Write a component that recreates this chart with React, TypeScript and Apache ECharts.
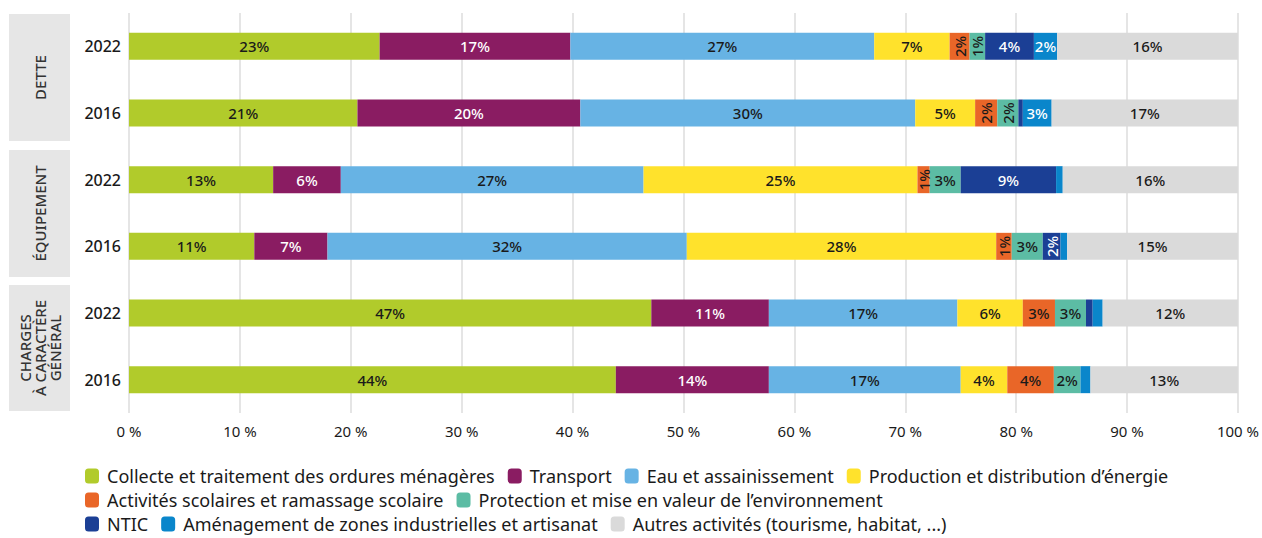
import React, { useEffect, useRef } from "react";
import * as echarts from "echarts";

const years = ["2022", "2016", "2022", "2016", "2022", "2016"];
const groups = ["DETTE", "ÉQUIPEMENT", "CHARGES\nÀ CARACTÈRE\nGÉNÉRAL"];
const seriesNames = [
  "Collecte et traitement des ordures ménagères",
  "Transport",
  "Eau et assainissement",
  "Production et distribution d’énergie",
  "Activités scolaires et ramassage scolaire",
  "Protection et mise en valeur de l’environnement",
  "NTIC",
  "Aménagement de zones industrielles et artisanat",
  "Autres activités (tourisme, habitat, ...)",
];
const collecte = [22.6, 20.6, 13.0, 11.3, 47.1, 43.9];
const transport = [17.2, 20.1, 6.1, 6.6, 10.6, 13.8];
const eau = [27.4, 30.2, 27.3, 32.4, 17.0, 17.3];
const energie = [6.8, 5.4, 24.7, 27.9, 5.9, 4.2];
const scolaire = [1.8, 2.0, 1.1, 1.4, 2.9, 4.2];
const environnement = [1.4, 1.9, 2.8, 2.8, 2.8, 2.4];
const ntic = [4.4, 0.4, 8.6, 1.6, 0.6, 0];
const zones = [2.1, 2.6, 0.6, 0.6, 0.9, 0.9];
const autres = [16.3, 16.8, 15.8, 15.4, 12.2, 13.3];
const xTicks = [0, 10, 20, 30, 40, 50, 60, 70, 80, 90, 100];

const colors = ["#B1CB2B", "#8A1C62", "#67B3E4", "#FFE22C", "#E96628", "#5CBCA4", "#1B3F95", "#0A86CB", "#DADADA"];
const labelColors = ["#1a1a1a", "#ffffff", "#1a1a1a", "#1a1a1a", "#1a1a1a", "#1a1a1a", "#ffffff", "#ffffff", "#1a1a1a"];
const allData = [collecte, transport, eau, energie, scolaire, environnement, ntic, zones, autres];
const legendRows = [[0, 1, 2, 3], [4, 5], [6, 7, 8]];

const FONT = "'Noto Sans', sans-serif";

export default function App() {
  const ref = useRef<HTMLDivElement>(null);
  useEffect(() => {
    document.body.style.margin = "0";
    if (!ref.current) return;
    const chart = echarts.init(ref.current, null, { renderer: "svg" });

    const series = allData.map((arr, si) => ({
      name: seriesNames[si],
      type: "bar",
      stack: "total",
      barWidth: 27,
      itemStyle: { color: colors[si] },
      data: arr.map((v) => ({
        value: v,
        label: {
          show: v >= 1,
          rotate: v < 2.05 ? 90 : 0,
          color: labelColors[si],
        },
      })),
      label: {
        show: true,
        position: "inside",
        fontFamily: FONT,
        fontSize: 15,
        fontWeight: 500,
        formatter: (p: any) => (p.value >= 1 ? Math.round(p.value) + "%" : ""),
      },
    }));

    const boxes = [
      { y: 14, h: 127 },
      { y: 150, h: 127 },
      { y: 285, h: 126 },
    ];
    const graphic: any[] = [];
    boxes.forEach((b, i) => {
      graphic.push({
        type: "rect",
        shape: { x: 9, y: b.y, width: 61, height: b.h },
        style: { fill: "#E6E6E6" },
        z: 1,
      });
      graphic.push({
        type: "text",
        x: 39.5,
        y: b.y + b.h / 2,
        rotation: Math.PI / 2,
        style: {
          text: groups[i],
          fill: "#333333",
          font: `500 15px ${FONT}`,
          textAlign: "center",
          textVerticalAlign: "middle",
          align: "center",
          verticalAlign: "middle",
          lineHeight: 15,
        },
        z: 2,
      });
    });

    const legendTops = [467, 491, 515];
    const legends = legendRows.map((row, ri) => ({
      data: row.map((i) => seriesNames[i]),
      left: 85,
      top: legendTops[ri],
      orient: "horizontal",
      padding: 0,
      itemWidth: 14,
      itemHeight: 15,
      itemGap: 13,
      selectedMode: false,
      textStyle: {
        fontFamily: FONT,
        fontSize: 18,
        lineHeight: 18,
        color: "#1a1a1a",
        padding: [0, 0, 0, 3],
      },
    }));

    chart.setOption({
      animation: false,
      color: colors,
      grid: { left: 129, right: 22, top: 13, bottom: 125, containLabel: false },
      xAxis: {
        type: "value",
        min: xTicks[0],
        max: xTicks[xTicks.length - 1],
        interval: 10,
        axisLine: { show: false },
        axisTick: { show: false },
        splitLine: { show: true, lineStyle: { color: "#DDDDDD", width: 1.5 } },
        axisLabel: {
          formatter: "{value} %",
          fontFamily: FONT,
          fontSize: 15,
          color: "#1a1a1a",
          margin: 10,
        },
      },
      yAxis: {
        type: "category",
        inverse: true,
        data: years.map((y, i) => ({ value: y + "_" + i })),
        axisLine: { show: false },
        axisTick: { show: false },
        axisLabel: {
          formatter: (v: string) => v.split("_")[0],
          fontFamily: FONT,
          fontSize: 16,
          fontWeight: 500,
          color: "#1a1a1a",
          margin: 8,
        },
      },
      legend: legends,
      graphic,
      series,
    });
    return () => chart.dispose();
  }, []);
  return <div ref={ref} style={{ width: 1262, height: 538 }} />;
}
